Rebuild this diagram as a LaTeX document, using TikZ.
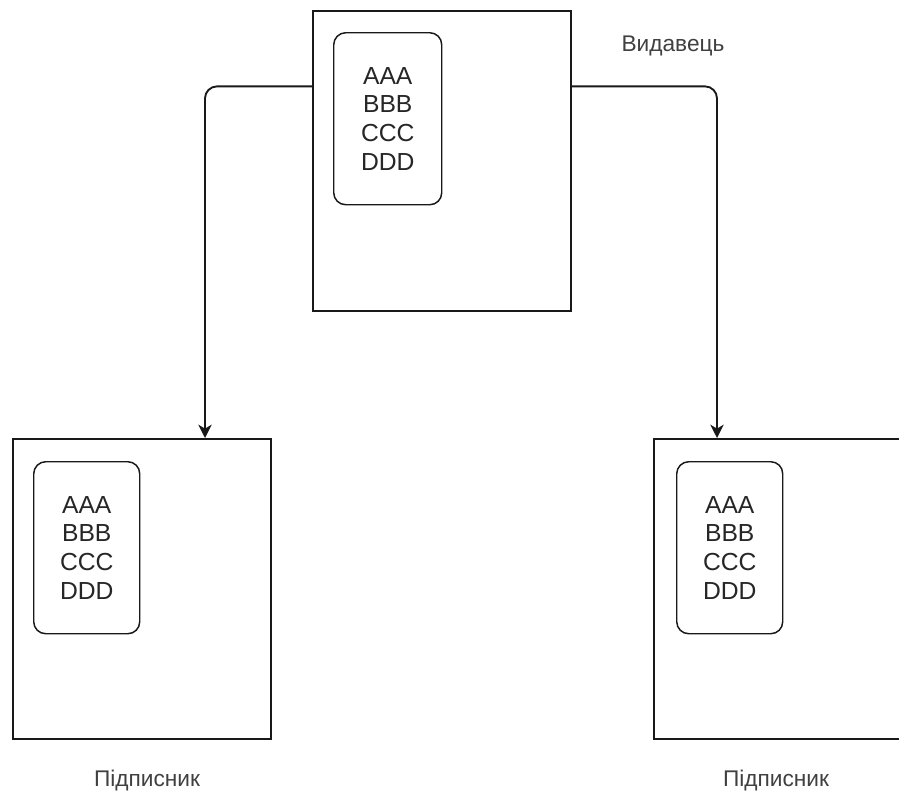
\documentclass[tikz,border=0pt]{standalone}
\usepackage{fontspec}
\setmainfont{Liberation Sans}
\usetikzlibrary{arrows.meta,calc}
\begin{document}
\begin{tikzpicture}[x=0.75pt,y=-0.75pt,
  outer/.style={draw=black!90,line width=1.4pt,minimum width=258*0.75pt,minimum height=300*0.75pt,anchor=north west,inner sep=0pt},
  inner/.style={draw=black!90,line width=1.1pt,rounded corners=12*0.75pt,minimum width=108*0.75pt,minimum height=172*0.75pt,anchor=north west,inner sep=0pt,align=center,text=black!85,font=\fontsize{18.5}{21.6}\selectfont},
  lbl/.style={text=black!75,font=\fontsize{17}{20}\selectfont,inner sep=0pt},
  arr/.style={draw=black!90,line width=1.4pt,rounded corners=12*0.75pt,-{Stealth[length=10pt,width=10pt,inset=3pt]}}]
\clip (0,0) rectangle (899,796);
\fill[white] (0,0) rectangle (899,796);
% boxes
\node[outer] (pub) at (312,10) {};
\node[inner] (pubin) at (333,32) {AAA\\BBB\\CCC\\DDD};
\node[outer] (sub1) at (12,438) {};
\node[inner,minimum width=106*0.75pt] (sub1in) at (33,461) {AAA\\BBB\\CCC\\DDD};
\node[outer,minimum width=262*0.75pt] (sub2) at (653,438) {};
\node[inner,minimum width=106*0.75pt] (sub2in) at (676,461) {AAA\\BBB\\CCC\\DDD};
% labels
\node[lbl] (publbl) at (673,46) {Видавець};
\node[lbl] (sub1lbl) at (147,781) {Підписник};
\node[lbl] (sub2lbl) at (776,781) {Підписник};
% connectors
\coordinate (pl) at ($(pub.north west)!0.253!(pub.south west)$);
\coordinate (pr) at ($(pub.north east)!0.253!(pub.south east)$);
\draw[arr] (pl) -| ([xshift=193*0.75pt]sub1.north west);
\draw[arr] (pr) -| ([xshift=64*0.75pt]sub2.north west);
\end{tikzpicture}
\end{document}
